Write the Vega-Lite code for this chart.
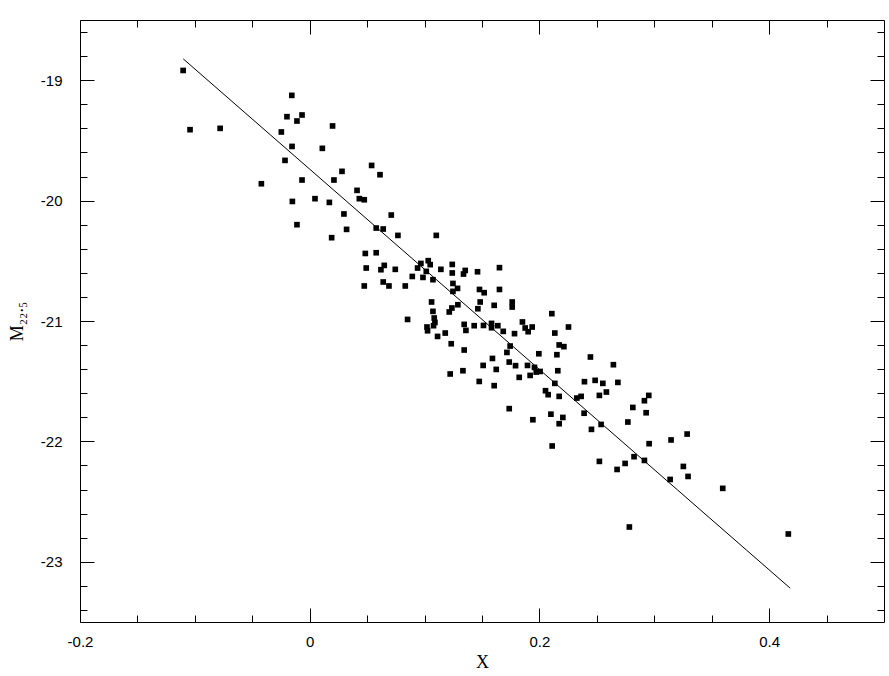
{
  "$schema": "https://vega.github.io/schema/vega-lite/v6.json",
  "width": 804,
  "height": 602,
  "autosize": "none",
  "padding": {"left": 80, "top": 20, "right": 5, "bottom": 54},
  "background": "white",
  "config": {
    "view": {"stroke": "black", "strokeWidth": 1},
    "axis": {"grid": false, "domain": false, "tickColor": "black", "tickWidth": 1, "labelColor": "black", "labelFont": "Liberation Sans", "labelFontSize": 15, "titleColor": "black", "titleFont": "Liberation Serif", "titleFontWeight": "normal", "titleFontSize": 18}
  },
  "datasets": {
    "pts": [
      {"x": -0.1102, "y": -18.919}, {"x": -0.1042, "y": -19.411}, {"x": -0.0780, "y": -19.400}, {"x": -0.0198, "y": -19.303},
      {"x": -0.0247, "y": -19.430}, {"x": -0.0215, "y": -19.666}, {"x": -0.0156, "y": -19.126}, {"x": -0.0067, "y": -19.289},
      {"x": -0.0111, "y": -19.339}, {"x": 0.0199, "y": -19.380}, {"x": -0.0154, "y": -19.550}, {"x": 0.0110, "y": -19.566},
      {"x": 0.0281, "y": -19.757}, {"x": 0.0539, "y": -19.708}, {"x": 0.0612, "y": -19.785}, {"x": -0.0421, "y": -19.860},
      {"x": -0.0067, "y": -19.829}, {"x": 0.0211, "y": -19.829}, {"x": 0.0412, "y": -19.915}, {"x": -0.0151, "y": -20.007},
      {"x": 0.0046, "y": -19.984}, {"x": 0.0171, "y": -20.015}, {"x": 0.0432, "y": -19.984}, {"x": 0.0475, "y": -19.993},
      {"x": 0.0298, "y": -20.111}, {"x": 0.0710, "y": -20.120}, {"x": -0.0111, "y": -20.200}, {"x": 0.0321, "y": -20.239},
      {"x": 0.0579, "y": -20.228}, {"x": 0.0640, "y": -20.236}, {"x": 0.0768, "y": -20.289}, {"x": 0.0191, "y": -20.308},
      {"x": 0.0484, "y": -20.439}, {"x": 0.0579, "y": -20.433}, {"x": 0.0492, "y": -20.560}, {"x": 0.0649, "y": -20.538},
      {"x": 0.0620, "y": -20.574}, {"x": 0.0745, "y": -20.571}, {"x": 0.0475, "y": -20.709}, {"x": 0.0640, "y": -20.676},
      {"x": 0.0690, "y": -20.709}, {"x": 0.0832, "y": -20.709},
      {"x": 0.1102, "y": -20.289}, {"x": 0.1032, "y": -20.499}, {"x": 0.0968, "y": -20.522}, {"x": 0.1049, "y": -20.532},
      {"x": 0.0939, "y": -20.560}, {"x": 0.1241, "y": -20.530}, {"x": 0.1652, "y": -20.557}, {"x": 0.0893, "y": -20.630},
      {"x": 0.1015, "y": -20.588}, {"x": 0.1142, "y": -20.571}, {"x": 0.1241, "y": -20.601}, {"x": 0.1354, "y": -20.580},
      {"x": 0.1339, "y": -20.610}, {"x": 0.1461, "y": -20.591}, {"x": 0.0986, "y": -20.638}, {"x": 0.1073, "y": -20.657},
      {"x": 0.1247, "y": -20.688}, {"x": 0.1287, "y": -20.729}, {"x": 0.1247, "y": -20.754}, {"x": 0.1478, "y": -20.738},
      {"x": 0.1519, "y": -20.765}, {"x": 0.1652, "y": -20.738}, {"x": 0.0852, "y": -20.987},
      {"x": 0.1061, "y": -20.842}, {"x": 0.1073, "y": -20.920}, {"x": 0.1238, "y": -20.892}, {"x": 0.1215, "y": -20.925},
      {"x": 0.1290, "y": -20.865}, {"x": 0.1484, "y": -20.842}, {"x": 0.1464, "y": -20.898}, {"x": 0.1606, "y": -20.870},
      {"x": 0.1763, "y": -20.842}, {"x": 0.1763, "y": -20.884}, {"x": 0.1084, "y": -20.975}, {"x": 0.1090, "y": -21.012},
      {"x": 0.1078, "y": -21.039}, {"x": 0.1021, "y": -21.050}, {"x": 0.1026, "y": -21.081}, {"x": 0.1345, "y": -21.028},
      {"x": 0.1432, "y": -21.039}, {"x": 0.1360, "y": -21.078}, {"x": 0.1513, "y": -21.037}, {"x": 0.1583, "y": -21.020},
      {"x": 0.1583, "y": -21.056}, {"x": 0.1638, "y": -21.039}, {"x": 0.1685, "y": -21.086}, {"x": 0.1852, "y": -21.008},
      {"x": 0.1876, "y": -21.058}, {"x": 0.1902, "y": -21.089}, {"x": 0.1180, "y": -21.100}, {"x": 0.1113, "y": -21.128},
      {"x": 0.1783, "y": -21.105}, {"x": 0.1232, "y": -21.189}, {"x": 0.1745, "y": -21.208}, {"x": 0.1345, "y": -21.241},
      {"x": 0.1717, "y": -21.261}, {"x": 0.1591, "y": -21.311}, {"x": 0.1737, "y": -21.341}, {"x": 0.1792, "y": -21.371},
      {"x": 0.1896, "y": -21.369}, {"x": 0.1510, "y": -21.369}, {"x": 0.1624, "y": -21.402}, {"x": 0.1334, "y": -21.413},
      {"x": 0.1223, "y": -21.440}, {"x": 0.1824, "y": -21.468}, {"x": 0.1919, "y": -21.452}, {"x": 0.1476, "y": -21.502},
      {"x": 0.1606, "y": -21.537}, {"x": 0.1737, "y": -21.728},
      {"x": 0.2108, "y": -20.939}, {"x": 0.1937, "y": -21.050}, {"x": 0.2253, "y": -21.050}, {"x": 0.2134, "y": -21.100},
      {"x": 0.2172, "y": -21.199}, {"x": 0.2213, "y": -21.213}, {"x": 0.1995, "y": -21.272}, {"x": 0.2152, "y": -21.280},
      {"x": 0.2444, "y": -21.299}, {"x": 0.2644, "y": -21.363}, {"x": 0.1957, "y": -21.385}, {"x": 0.2006, "y": -21.419},
      {"x": 0.1972, "y": -21.424}, {"x": 0.2160, "y": -21.413}, {"x": 0.2392, "y": -21.504}, {"x": 0.2485, "y": -21.493},
      {"x": 0.2552, "y": -21.518}, {"x": 0.2683, "y": -21.510}, {"x": 0.2134, "y": -21.518}, {"x": 0.2053, "y": -21.579},
      {"x": 0.2076, "y": -21.612}, {"x": 0.2172, "y": -21.626}, {"x": 0.2363, "y": -21.626}, {"x": 0.2326, "y": -21.640},
      {"x": 0.2522, "y": -21.618}, {"x": 0.2583, "y": -21.590}, {"x": 0.2952, "y": -21.618}, {"x": 0.2914, "y": -21.662},
      {"x": 0.2813, "y": -21.718}, {"x": 0.2100, "y": -21.774}, {"x": 0.2389, "y": -21.766}, {"x": 0.2929, "y": -21.762},
      {"x": 0.1943, "y": -21.820}, {"x": 0.2204, "y": -21.801}, {"x": 0.2172, "y": -21.853}, {"x": 0.2453, "y": -21.900},
      {"x": 0.2537, "y": -21.859}, {"x": 0.2770, "y": -21.839}, {"x": 0.2111, "y": -22.038}, {"x": 0.2955, "y": -22.019},
      {"x": 0.2522, "y": -22.166}, {"x": 0.2676, "y": -22.233}, {"x": 0.2746, "y": -22.183}, {"x": 0.2824, "y": -22.127},
      {"x": 0.2914, "y": -22.158}, {"x": 0.2783, "y": -22.711},
      {"x": 0.3146, "y": -21.988}, {"x": 0.3286, "y": -21.939}, {"x": 0.3253, "y": -22.208}, {"x": 0.3294, "y": -22.291},
      {"x": 0.3138, "y": -22.316}, {"x": 0.3596, "y": -22.390}, {"x": 0.4167, "y": -22.769}
    ],
    "fit": [
      {"x": -0.1101, "y": -18.823},
      {"x": 0.4183, "y": -23.219}
    ]
  },
  "layer": [
    {
      "data": {"name": "pts"},
      "mark": {"type": "square", "size": 32, "color": "black", "opacity": 1, "filled": true},
      "encoding": {
        "x": {"field": "x", "type": "quantitative", "scale": {"domain": [-0.2, 0.5], "nice": false, "zero": false},
              "axis": {"orient": "bottom", "title": "X", "values": [-0.2, 0, 0.2, 0.4], "labelExpr": "'' + datum.value", "tickSize": -14, "labelPadding": 26, "titlePadding": 4, "labelFlush": false, "labelOverlap": false}},
        "y": {"field": "y", "type": "quantitative", "scale": {"domain": [-23.5, -18.5], "nice": false, "zero": false},
              "axis": {"orient": "left", "title": "M₂₂.₅", "values": [-23, -22, -21, -20, -19], "labelExpr": "'' + datum.value", "tickSize": -14, "labelPadding": 32, "titlePadding": 14, "labelFlush": false, "labelOverlap": false}}
      }
    },
    {
      "data": {"name": "fit"},
      "mark": {"type": "line", "color": "black", "strokeWidth": 1},
      "encoding": {
        "x": {"field": "x", "type": "quantitative", "scale": {"domain": [-0.2, 0.5], "nice": false, "zero": false},
              "axis": {"orient": "top", "title": null, "labels": false, "values": [-0.2, 0, 0.2, 0.4], "tickSize": -14}},
        "y": {"field": "y", "type": "quantitative", "scale": {"domain": [-23.5, -18.5], "nice": false, "zero": false},
              "axis": {"orient": "right", "title": null, "labels": false, "values": [-23, -22, -21, -20, -19], "tickSize": -14}}
      }
    },
    {
      "data": {"name": "pts"},
      "mark": {"type": "square", "size": 1, "opacity": 0},
      "encoding": {
        "x": {"field": "x", "type": "quantitative", "scale": {"domain": [-0.2, 0.5], "nice": false, "zero": false},
              "axis": {"orient": "bottom", "title": null, "labels": false, "values": [-0.15, -0.1, -0.05, 0.05, 0.1, 0.15, 0.25, 0.3, 0.35, 0.45], "tickSize": -7}},
        "y": {"field": "y", "type": "quantitative", "scale": {"domain": [-23.5, -18.5], "nice": false, "zero": false},
              "axis": {"orient": "left", "title": null, "labels": false, "values": [-23.4, -23.2, -22.8, -22.6, -22.4, -22.2, -21.8, -21.6, -21.4, -21.2, -20.8, -20.6, -20.4, -20.2, -19.8, -19.6, -19.4, -19.2, -18.8, -18.6], "tickSize": -7}}
      }
    },
    {
      "data": {"name": "pts"},
      "mark": {"type": "square", "size": 1, "opacity": 0},
      "encoding": {
        "x": {"field": "x", "type": "quantitative", "scale": {"domain": [-0.2, 0.5], "nice": false, "zero": false},
              "axis": {"orient": "top", "title": null, "labels": false, "values": [-0.15, -0.1, -0.05, 0.05, 0.1, 0.15, 0.25, 0.3, 0.35, 0.45], "tickSize": -7}},
        "y": {"field": "y", "type": "quantitative", "scale": {"domain": [-23.5, -18.5], "nice": false, "zero": false},
              "axis": {"orient": "right", "title": null, "labels": false, "values": [-23.4, -23.2, -22.8, -22.6, -22.4, -22.2, -21.8, -21.6, -21.4, -21.2, -20.8, -20.6, -20.4, -20.2, -19.8, -19.6, -19.4, -19.2, -18.8, -18.6], "tickSize": -7}}
      }
    }
  ],
  "resolve": {"axis": {"x": "independent", "y": "independent"}}
}
